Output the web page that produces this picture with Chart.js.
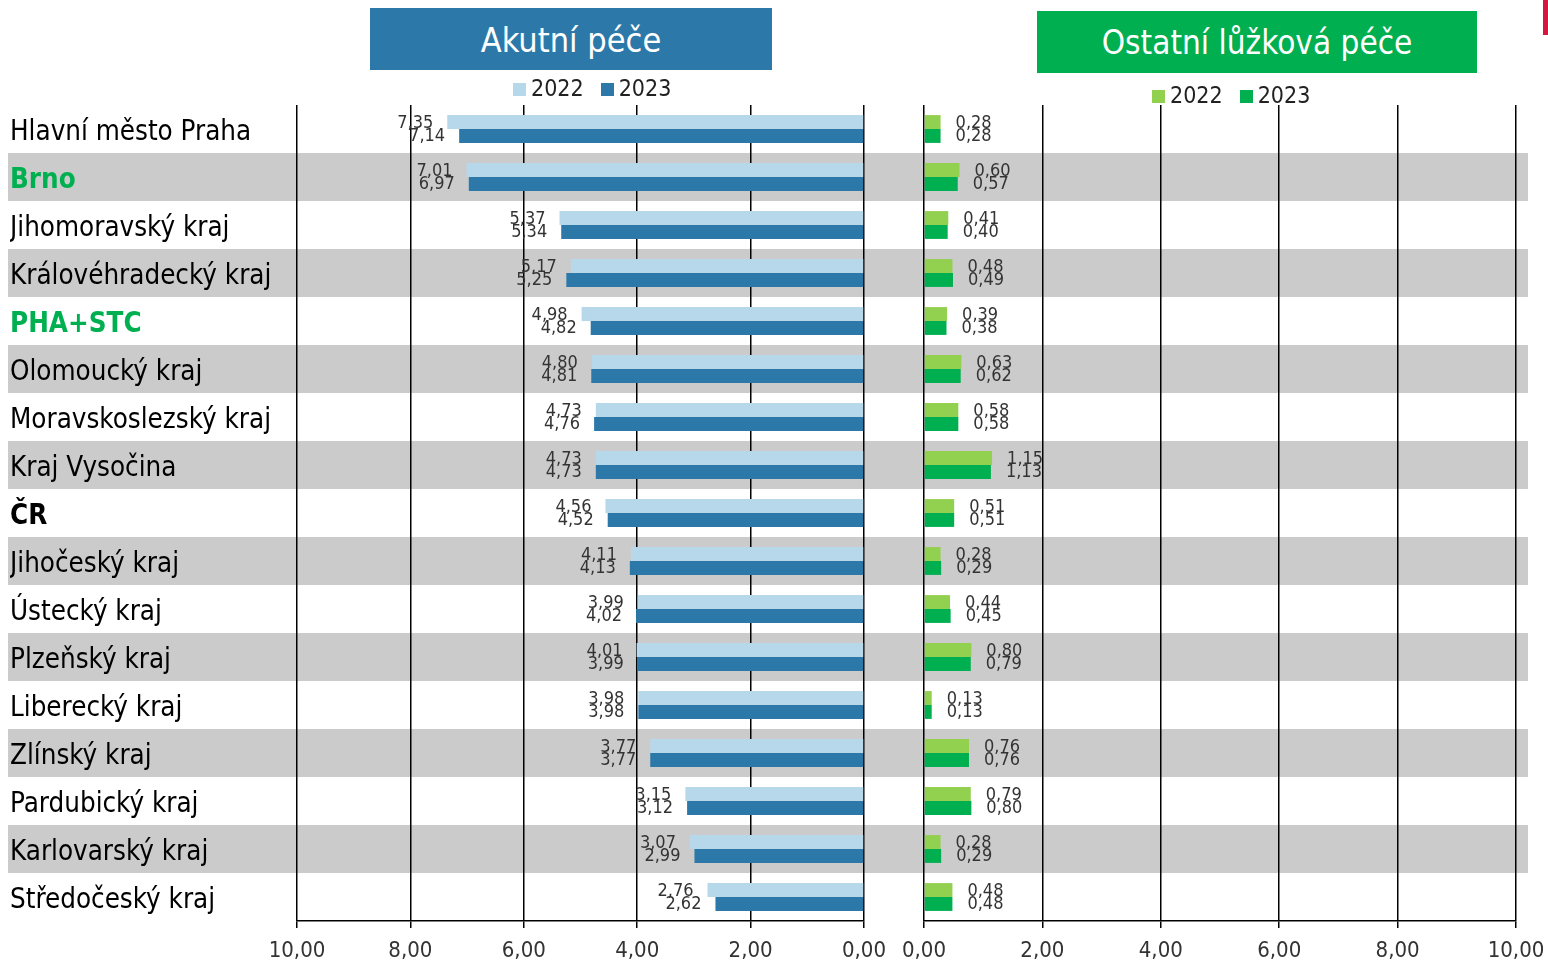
<!DOCTYPE html>
<html>
<head>
<meta charset="utf-8">
<script src="https://cdn.jsdelivr.net/npm/chart.js@4"></script>
<style>
	body { margin: 0; background: #fff; width: 1548px; height: 963px; overflow: hidden; position: relative; font-family: "DejaVu Sans Condensed", "DejaVu Sans", sans-serif; }
	canvas { position: absolute; top: 0; }
	.head { position: absolute; color: #fff; text-align: center; }
	.legend { position: absolute; font-size: 23px; color: #222; white-space: nowrap; }
	.legend span.box { display: inline-block; width: 13px; height: 13px; margin-right: 5px; vertical-align: 0px; }
	.legend span.txt { margin-right: 17px; }
	.redmark { position: absolute; left: 1543px; top: 0; width: 6px; height: 35px; background: #d7173f; }
</style>
</head>
<body>
<canvas id="akut" width="896" height="963" style="left:0"></canvas>
<canvas id="ostatni" width="652" height="963" style="left:896px"></canvas>

<div class="head" style="left:370px; top:8px; width:402px; height:62px; line-height:64px; font-size:34px; background:#2c79a9;">Akutní péče</div>
<div class="head" style="left:1037px; top:11px; width:440px; height:62px; line-height:64px; font-size:33px; background:#00b050;">Ostatní lůžková péče</div>
<div class="legend" style="left:513px; top:75px;"><span class="box" style="background:#b7d7eb"></span><span class="txt">2022</span><span class="box" style="background:#2c78a8"></span><span>2023</span></div>
<div class="legend" style="left:1152px; top:82px;"><span class="box" style="background:#92d050"></span><span class="txt">2022</span><span class="box" style="background:#00b050"></span><span>2023</span></div>
<div class="redmark"></div>

<script>
// data
const categories = ['Hlavní město Praha', 'Brno', 'Jihomoravský kraj', 'Královéhradecký kraj', 'PHA+STC',
	'Olomoucký kraj', 'Moravskoslezský kraj', 'Kraj Vysočina', 'ČR', 'Jihočeský kraj', 'Ústecký kraj',
	'Plzeňský kraj', 'Liberecký kraj', 'Zlínský kraj', 'Pardubický kraj', 'Karlovarský kraj', 'Středočeský kraj'];
const seriesLabels = ['2022', '2023'];
const akut2022 = [7.35, 7.01, 5.37, 5.17, 4.98, 4.80, 4.73, 4.73, 4.56, 4.11, 3.99, 4.01, 3.98, 3.77, 3.15, 3.07, 2.76];
const akut2023 = [7.14, 6.97, 5.34, 5.25, 4.82, 4.81, 4.76, 4.73, 4.52, 4.13, 4.02, 3.99, 3.98, 3.77, 3.12, 2.99, 2.62];
const ost2022 = [0.28, 0.60, 0.41, 0.48, 0.39, 0.63, 0.58, 1.15, 0.51, 0.28, 0.44, 0.80, 0.13, 0.76, 0.79, 0.28, 0.48];
const ost2023 = [0.28, 0.57, 0.40, 0.49, 0.38, 0.62, 0.58, 1.13, 0.51, 0.29, 0.45, 0.79, 0.13, 0.76, 0.80, 0.29, 0.48];
const xTicks = [0, 2, 4, 6, 8, 10];
const greenCats = ['Brno', 'PHA+STC'];
const boldCats = ['Brno', 'PHA+STC', 'ČR'];

const fmt = v => v.toFixed(2).replace('.', ',');
const FONT = '"DejaVu Sans Condensed", "DejaVu Sans", sans-serif';

// grey stripes behind every second row
function bandsPlugin(x0, x1) {
	return {
		id: 'bands',
		beforeDraw(chart) {
			const y = chart.scales.y;
			const ctx = chart.ctx;
			const step = y.getPixelForValue(1) - y.getPixelForValue(0);
			ctx.save();
			ctx.fillStyle = '#cbcbcb';
			categories.forEach((c, i) => {
				if (i % 2 === 1) {
					const yc = y.getPixelForValue(i);
					ctx.fillRect(x0, yc - step / 2, x1 - x0, step);
				}
			});
			ctx.restore();
		}
	};
}

// value labels at the bar ends
function valuesPlugin(side) {
	return {
		id: 'values',
		afterDatasetsDraw(chart) {
			const ctx = chart.ctx;
			ctx.save();
			ctx.font = '18px ' + FONT;
			ctx.fillStyle = '#333';
			ctx.textBaseline = 'middle';
			chart.data.datasets.forEach((ds, di) => {
				const meta = chart.getDatasetMeta(di);
				const dy = di === 0 ? 1 : 0;
				meta.data.forEach((bar, i) => {
					if (side === 'left') {
						ctx.textAlign = 'right';
						ctx.fillText(fmt(ds.data[i]), bar.x - 14, bar.y + dy);
					} else {
						ctx.textAlign = 'left';
						ctx.fillText(fmt(ds.data[i]), bar.x + 15, bar.y + dy);
					}
				});
			});
			ctx.restore();
		}
	};
}

function xScale(reverse) {
	return {
		type: 'linear',
		min: 0,
		max: 10,
		reverse: reverse,
		afterBuildTicks: s => { s.ticks = xTicks.map(v => ({ value: v })); },
		afterFit: s => {
			s.height = 42;
			s.paddingLeft = 0;
			s.paddingRight = 0;
		},
		grid: { color: '#000', lineWidth: 1.5, tickLength: 7, drawTicks: true },
		border: { display: true, color: '#000', width: 1.5 },
		ticks: {
			color: '#333',
			font: { family: FONT, size: 22 },
			padding: 10,
			maxRotation: 0,
			callback: v => fmt(v)
		}
	};
}

new Chart(document.getElementById('akut'), {
	type: 'bar',
	data: {
		labels: categories,
		datasets: [
			{ label: seriesLabels[0], data: akut2022, backgroundColor: '#b7d7eb' },
			{ label: seriesLabels[1], data: akut2023, backgroundColor: '#2c78a8' }
		]
	},
	options: {
		indexAxis: 'y',
		responsive: false,
		animation: false,
		events: [],
		layout: { padding: { left: 10, right: 32, top: 105, bottom: 0 } },
		datasets: { bar: { categoryPercentage: 0.58, barPercentage: 1 } },
		plugins: { legend: { display: false }, tooltip: { enabled: false } },
		scales: {
			x: xScale(true),
			y: {
				afterFit: s => { s.width = 287; },
				grid: { display: false },
				border: { display: false },
				ticks: {
					crossAlign: 'far',
					labelOffset: 4,
					color: c => greenCats.includes(categories[c.index]) ? '#00b050' : '#000',
					font: c => ({ family: FONT, size: 27.5, weight: boldCats.includes(categories[c.index]) ? 'bold' : 'normal' })
				}
			}
		}
	},
	plugins: [bandsPlugin(8, 896), valuesPlugin('left')]
});

new Chart(document.getElementById('ostatni'), {
	type: 'bar',
	data: {
		labels: categories,
		datasets: [
			{ label: seriesLabels[0], data: ost2022, backgroundColor: '#92d050' },
			{ label: seriesLabels[1], data: ost2023, backgroundColor: '#00b050' }
		]
	},
	options: {
		indexAxis: 'y',
		responsive: false,
		animation: false,
		events: [],
		layout: { padding: { left: 28, right: 32, top: 105, bottom: 0 } },
		datasets: { bar: { categoryPercentage: 0.58, barPercentage: 1 } },
		plugins: { legend: { display: false }, tooltip: { enabled: false } },
		scales: {
			x: xScale(false),
			y: { display: false }
		}
	},
	plugins: [bandsPlugin(0, 632), valuesPlugin('right')]
});
</script>
</body>
</html>
